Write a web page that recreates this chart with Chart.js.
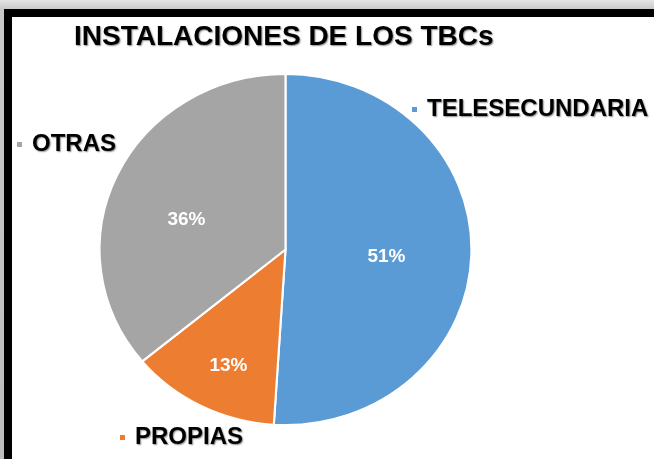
<!DOCTYPE html>
<html>
<head>
<meta charset="utf-8">
<script src="https://cdn.jsdelivr.net/npm/chart.js@4"></script>
<style>
  html, body { margin: 0; padding: 0; }
  body {
    width: 654px; height: 459px; overflow: hidden; position: relative;
    background: linear-gradient(to bottom, #e4e4e4 0px, #c9c9c9 9px, #bdbdbd 459px);
  }
  .frame {
    position: absolute; left: 4px; top: 9px; width: 700px; height: 447px;
    background: #fff; border-left: 8px solid #000; border-top: 8px solid #000;
    border-bottom: 8px solid #000; box-sizing: content-box;
  }
  canvas { position: absolute; left: 0; top: 0; }
</style>
</head>
<body>
<div class="frame"></div>
<canvas id="chart" width="654" height="459"></canvas>
<script>
const title = "INSTALACIONES DE LOS TBCs"
const categories = ["TELESECUNDARIA", "PROPIAS", "OTRAS"]
const percents = [51, 13, 36]
const colors = ["#5B9BD5", "#ED7D31", "#A5A5A5"]

// Excel-style category labels placed outside the pie (text anchor, left aligned)
const categoryLabelPos = [[427, 109], [135, 437], [32, 144]]
// value labels, offset from the pie centre
const valueLabelOffset = [[101, 7], [-57, 116], [-99, -30]]

const stretchX = 187 / 176.5

const ellipsePlugin = {
  id: "ellipse",
  beforeDatasetsDraw(chart) {
    const arc = chart.getDatasetMeta(0).data[0]
    const ctx = chart.ctx
    ctx.save()
    ctx.translate(arc.x, arc.y)
    ctx.scale(stretchX, 1)
    ctx.translate(-arc.x, -arc.y)
  },
  afterDatasetsDraw(chart) {
    chart.ctx.restore()
  },
}

const labelsPlugin = {
  id: "pieLabels",
  afterDraw(chart) {
    const ctx = chart.ctx
    const meta = chart.getDatasetMeta(0)
    const cx = meta.data[0].x
    const cy = meta.data[0].y
    ctx.save()
    ctx.textBaseline = "middle"

    // title
    ctx.fillStyle = "#000"
    ctx.shadowColor = "rgba(0,0,0,0.45)"
    ctx.shadowBlur = 1.5
    ctx.shadowOffsetX = 1
    ctx.shadowOffsetY = 1
    ctx.font = "bold 28px 'Liberation Sans', Arial, sans-serif"
    ctx.textAlign = "left"
    ctx.fillText(title, 74, 37)

    // category labels with small colour key
    ctx.font = "bold 24px 'Liberation Sans', Arial, sans-serif"
    categories.forEach((c, i) => {
      const [x, y] = categoryLabelPos[i]
      ctx.fillStyle = "#000"
      ctx.fillText(c, x, y)
    })
    ctx.shadowColor = "transparent"
    categories.forEach((c, i) => {
      const [x, y] = categoryLabelPos[i]
      ctx.fillStyle = colors[i]
      ctx.fillRect(x - 15, y - 2, 5, 5)
    })

    // value labels
    ctx.fillStyle = "#fff"
    ctx.font = "bold 19px 'Liberation Sans', Arial, sans-serif"
    ctx.textAlign = "center"
    percents.forEach((p, i) => {
      ctx.fillText(p + "%", cx + valueLabelOffset[i][0], cy + valueLabelOffset[i][1])
    })
    ctx.restore()
  },
}

new Chart(document.getElementById("chart"), {
  type: "pie",
  data: {
    labels: categories,
    datasets: [
      {
        data: percents,
        backgroundColor: colors,
        borderColor: "#ffffff",
        borderWidth: 2,
        clip: false,
      },
    ],
  },
  options: {
    responsive: false,
    animation: false,
    layout: {
      padding: { left: 109, right: 192, top: 73, bottom: 33 },
    },
    plugins: {
      legend: { display: false },
      tooltip: { enabled: false },
      title: { display: false },
    },
  },
  plugins: [ellipsePlugin, labelsPlugin],
})
</script>
</body>
</html>
